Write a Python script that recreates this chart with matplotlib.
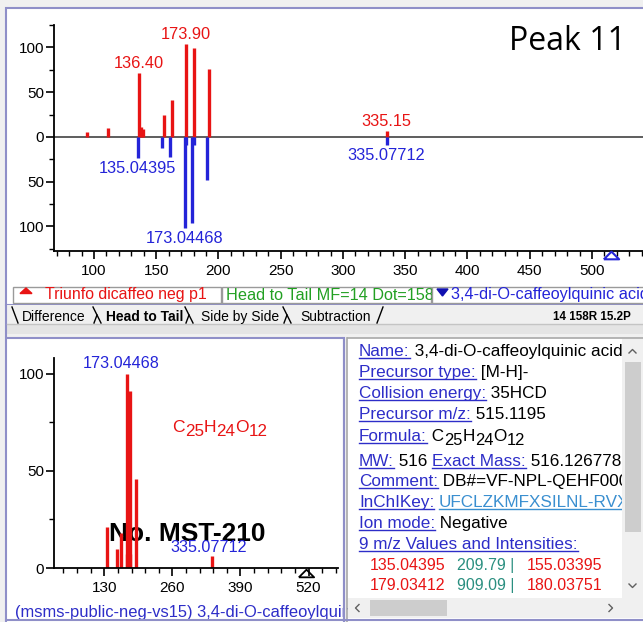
import matplotlib
matplotlib.use('Agg')
import matplotlib.pyplot as plt
from matplotlib.patches import Rectangle
from matplotlib.ticker import MultipleLocator, FuncFormatter

plt.rcParams['font.family'] = ['Liberation Sans', 'DejaVu Sans']

# query spectrum (head, red)
query_mz = [94.6, 111.5, 136.4, 137.6, 139.0, 156.0, 162.4, 173.9, 180.3, 192.0, 335.15]
query_int = [5, 10, 71, 11, 9, 24, 41, 104, 99, 76, 7]
query_labels = ['', '', '136.40', '', '', '', '', '173.90', '', '', '335.15']

# library spectrum (tail, blue)
lib_mz = [135.04395, 155.03395, 161.02, 173.04468, 174.05, 179.03412, 180.03751, 191.056, 335.07712]
lib_int = [24, 12, 22, 102, 9, 96, 9, 48.5, 9]
lib_labels = ['135.04395', '', '', '173.04468', '', '', '', '', '335.07712']
lib_rel = [21, 10, 18, 100, 7, 91, 7, 46, 6]
precursor_mz = 515.1195

# peak table shown in the info panel
table_rows = [('135.04395', '209.79 |', '155.03395'),
              ('179.03412', '909.09 |', '180.03751')]

RED = '#e81414'
BLUE = '#2424d8'
LINK = '#2d2dc8'
TEAL = '#2a8f80'
GREEN = '#22a022'
FRAME = '#8f8fc8'

W, H = 643, 622
fig = plt.figure(figsize=(W / 100, H / 100), dpi=100)
fig.patch.set_facecolor('#f0f0f0')
bg = fig.add_axes([0, 0, 1, 1])
bg.set_xlim(0, W)
bg.set_ylim(H, 0)
bg.axis('off')
renderer = fig.canvas.get_renderer()


def rect(x0, y0, x1, y1, fc, ec='none', lw=0, z=1):
    bg.add_patch(Rectangle((x0, y0), x1 - x0, y1 - y0, facecolor=fc,
                           edgecolor=ec, linewidth=lw, zorder=z))


def px_axes(x0, y0, x1, y1):
    return fig.add_axes([x0 / W, 1 - y1 / H, (x1 - x0) / W, (y1 - y0) / H])


def rich(x, y, parts, size=12.3, z=5):
    # parts: (text, color, underline, dy, size scale)
    for p in parts:
        s, color = p[0], p[1]
        under = p[2] if len(p) > 2 else False
        dy = p[3] if len(p) > 3 else 0
        sc = p[4] if len(p) > 4 else 1.0
        t = bg.text(x, y + dy, s, color=color, fontsize=size * sc, va='baseline', ha='left', zorder=z)
        w = t.get_window_extent(renderer).width
        if under:
            bg.plot([x, x + w], [y + 2, y + 2], color=color, lw=1, zorder=z)
        x += w
    return x


# ---- window panels ----
rect(6, 8, 660, 305, 'white', FRAME, 1.5)
rect(6, 305, 660, 336, '#f0f0f0')
bg.plot([6, 6], [305, 336], color=FRAME, lw=1.5, zorder=2)
rect(7, 324, 660, 334, '#e4e4e4')
bg.plot([7, 660], [324, 324], color='#c4c4c4', lw=1, zorder=2)
rect(6, 338, 344, 640, 'white', FRAME, 1.5)
rect(346, 338, 660, 640, 'white', '#a8a8a8', 1.2)

# legend boxes, each one drawn over the overflow of the one before
rect(13, 287, 221, 303, 'white', '#9a9a9a', 1, z=2)
bg.fill([20, 26, 32], [293.5, 288, 293.5], color=RED, zorder=3)
bg.text(45, 299.5, 'Triunfo dicaffeo neg p1', color=RED, fontsize=11.4, va='baseline', zorder=3)
rect(222, 287, 431, 303, 'white', '#9a9a9a', 1, z=4)
bg.text(226, 299.5, 'Head to Tail MF=14 Dot=158', color=GREEN, fontsize=11.7, va='baseline', zorder=5)
rect(432, 287, 660, 303, 'white', '#9a9a9a', 1, z=6)
bg.fill([437, 448, 442.5], [289, 289, 296], color='#1010b0', zorder=7)
bg.text(451, 299.5, '3,4-di-O-caffeoylquinic acid', color=BLUE, fontsize=11.7, va='baseline', zorder=7)

# tabs
tab_names = ['Difference', 'Head to Tail', 'Side by Side', 'Subtraction']
tab_x = [22, 106, 201, 300]
for name, x in zip(tab_names, tab_x):
    bg.text(x, 321, name, fontsize=10, va='baseline', zorder=5,
            fontweight='bold' if name == 'Head to Tail' else 'normal')
for x in [96, 188, 286]:
    bg.plot([x - 3, x + 5], [307, 323], color='black', lw=1, zorder=5)
    bg.plot([x - 2, x + 1], [323, 315], color='black', lw=1, zorder=5)
bg.plot([12, 18], [307, 323], color='black', lw=1, zorder=5)
bg.plot([377, 383], [323, 307], color='black', lw=1, zorder=5)
bg.text(631, 320, '14 158R 15.2P', fontsize=8.4, fontweight='bold', ha='right', va='baseline', zorder=5)

bg.text(626, 50, 'Peak 11', family='Open Sans', fontsize=23, ha='right', va='baseline', zorder=6)

# ---- head to tail plot ----
ax = px_axes(54, 25, 643, 251)
ax.set_facecolor('none')
ax.vlines(query_mz, 0, query_int, color=RED, lw=2.4)
ax.vlines(lib_mz, 0, [-v for v in lib_int], color=BLUE, lw=2.4)
ax.axhline(0, color='#505050', lw=1.3, zorder=1)
for mz, v, lab in zip(query_mz, query_int, query_labels):
    if lab:
        ax.annotate(lab, (mz, v), xytext=(0, 1.5), textcoords='offset points',
                    ha='center', va='bottom', color=RED, fontsize=11.8)
for mz, v, lab in zip(lib_mz, lib_int, lib_labels):
    if lab:
        ax.annotate(lab, (mz, -v), xytext=(0, -2), textcoords='offset points',
                    ha='center', va='top', color=BLUE, fontsize=11.8)
ax.plot([precursor_mz], [-0.018], transform=ax.get_xaxis_transform(), clip_on=False,
        marker=[(-1, -0.5), (0, 0.5), (1, -0.5), (-1, -0.5)], ms=11, mfc='none',
        mec=BLUE, mew=1.5, zorder=5)
ax.set_xlim(67.9, 541)
ax.set_ylim(-127.4, 125.1)
ax.xaxis.set_major_locator(MultipleLocator(50))
ax.xaxis.set_minor_locator(MultipleLocator(10))
ax.yaxis.set_major_locator(MultipleLocator(50))
ax.yaxis.set_minor_locator(MultipleLocator(25))
ax.yaxis.set_major_formatter(FuncFormatter(lambda v, p: '%d' % abs(v)))
for side in ['top', 'right']:
    ax.spines[side].set_visible(False)
for side in ['left', 'bottom']:
    ax.spines[side].set_linewidth(1.3)
ax.tick_params(which='major', length=6, width=1.2, labelsize=11, pad=1)
ax.tick_params(which='minor', length=3.5, width=1)
ax.tick_params(axis='x', pad=3)

# ---- library spectrum plot ----
ax2 = px_axes(54, 358, 338, 568)
ax2.set_facecolor('none')
ax2.vlines(lib_mz, 0, lib_rel, color=RED, lw=2.4)
ax2.annotate('173.04468', (lib_mz[3], lib_rel[3]), xytext=(-4, 2), textcoords='offset points',
             ha='center', va='bottom', color=BLUE, fontsize=11.6)
ax2.annotate('335.07712', (lib_mz[8], lib_rel[8]), xytext=(-2, 1), textcoords='offset points',
             ha='center', va='bottom', color=BLUE, fontsize=11.6)
ax2.plot([precursor_mz], [-0.022], transform=ax2.get_xaxis_transform(), clip_on=False,
         marker=[(-1, -0.5), (0, 0.5), (1, -0.5), (-1, -0.5)], ms=11, mfc='none',
         mec='black', mew=1.3, zorder=5)
ax2.set_xlim(34.0, 576.2)
ax2.set_ylim(0, 108.2)
ax2.xaxis.set_major_locator(MultipleLocator(130))
ax2.xaxis.set_minor_locator(MultipleLocator(26))
ax2.yaxis.set_major_locator(MultipleLocator(50))
ax2.yaxis.set_minor_locator(MultipleLocator(25))
for side in ['top', 'right']:
    ax2.spines[side].set_visible(False)
for side in ['left', 'bottom']:
    ax2.spines[side].set_linewidth(1.3)
ax2.tick_params(which='major', length=6, width=1.2, labelsize=11, pad=1)
ax2.tick_params(which='minor', length=3.5, width=1)
ax2.tick_params(axis='x', pad=3)

rich(172, 432, [('C', RED), ('25', RED, False, 4, 0.97), ('H', RED), ('24', RED, False, 4, 0.97),
                ('O', RED), ('12', RED, False, 4, 0.97)], size=12.6)
bg.text(187, 541, 'No. MST-210', fontsize=19, fontweight='bold', ha='center', va='baseline', zorder=6)
bg.text(15, 617, '(msms-public-neg-vs15) 3,4-di-O-caffeoylquinic acid', color=LINK,
        fontsize=11.9, va='baseline', zorder=5)
# panel divider hides the overflowing label
rect(342.5, 336, 347, 622, '#f0f0f0', z=8)
bg.plot([343.5, 343.5], [338, 622], color=FRAME, lw=1.5, zorder=9)
bg.plot([346.5, 346.5], [338, 622], color='#a8a8a8', lw=1.2, zorder=9)

# ---- info panel ----
K = 'black'
info_rows = [
    (356, [('Name:', LINK, True), (' 3,4-di-O-caffeoylquinic acid', K)]),
    (377, [('Precursor type:', LINK, True), (' [M-H]-', K)]),
    (398, [('Collision energy:', LINK, True), (' 35HCD', K)]),
    (419, [('Precursor m/z:', LINK, True), (' 515.1195', K)]),
    (441, [('Formula:', LINK, True), (' C', K), ('25', K, False, 4, 0.97), ('H', K),
           ('24', K, False, 4, 0.97), ('O', K), ('12', K, False, 4, 0.97)]),
    (466, [('MW:', LINK, True), (' 516 ', K), ('Exact Mass:', LINK, True), (' 516.126778 ', K),
           ('InChI:', LINK, True)]),
    (486, [('Comment:', LINK, True), (' DB#=VF-NPL-QEHF000000', K)]),
    (507, [('InChIKey:', LINK, True), (' ', K), ('UFCLZKMFXSILNL-RVXRWRFUSA-N', '#3a8fd0', True)]),
    (528, [('Ion mode:', LINK, True), (' Negative', K)]),
    (549, [('9 m/z Values and Intensities:', LINK, True)]),
]
for y, parts in info_rows:
    rich(359, y, parts, size=12.3)
for y, (mz1, inten, mz2) in zip([570, 590], table_rows):
    bg.text(370, y, mz1, color=RED, fontsize=11.5, va='baseline', zorder=5)
    bg.text(457, y, inten, color=TEAL, fontsize=11.5, va='baseline', zorder=5)
    bg.text(527, y, mz2, color=RED, fontsize=11.5, va='baseline', zorder=5)

# scrollbars cover whatever runs past the text area
rect(622, 339, 660, 598, '#f0f0f0', z=10)
rect(625, 362, 641, 532, '#cdcdcd', z=11)
bg.plot([629, 632.5, 636], [353, 349.5, 353], color='#606060', lw=1, zorder=12)
bg.plot([629, 632.5, 636], [584, 587.5, 584], color='#606060', lw=1, zorder=12)
rect(347.5, 598, 660, 618, '#f0f0f0', z=10)
rect(370, 600, 447, 616, '#cdcdcd', z=11)
bg.plot([359, 355.5, 359], [604.5, 608, 611.5], color='#606060', lw=1, zorder=12)
bg.plot([609, 612.5, 609], [604.5, 608, 611.5], color='#606060', lw=1, zorder=12)
rect(347.5, 618, 660, 630, 'white', z=10)
bg.plot([6, 660], [619.5, 619.5], color=FRAME, lw=1.5, zorder=13)

fig.savefig('out.png', dpi=100, facecolor=fig.get_facecolor())
